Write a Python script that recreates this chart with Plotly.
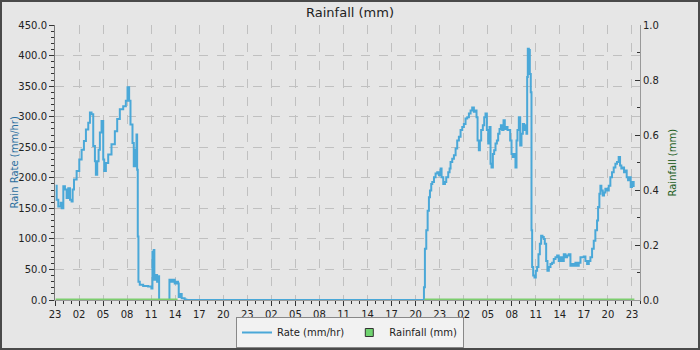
import pandas as pd
import plotly.graph_objects as go

start = pd.Timestamp("2024-01-01 23:00")

# Rain rate (mm/hr): hours after start, values
rate_hours = [
    0.08, 0.21, 0.41, 0.71, 0.83, 1.04, 1.24, 1.45, 1.66, 1.87, 2.07, 2.2, 2.37, 2.7, 3.03,
    3.32, 3.61, 3.86, 4.15, 4.36, 4.56, 4.77, 4.98, 5.1, 5.27, 5.44, 5.6, 5.81, 6.02, 6.14,
    6.35, 6.64, 7.05, 7.47, 7.76, 8.09, 8.51, 8.84, 9.05, 9.25, 9.42, 9.67, 9.83, 10.0, 10.17,
    10.25, 10.33, 10.41, 10.58, 11.0, 11.62, 12.03, 12.16, 12.32, 12.4, 12.57, 12.74, 12.95,
    12.99, 14.23, 14.28, 14.52, 14.73, 14.94, 15.15, 15.35, 15.44, 15.64, 15.81, 16.18, 16.39,
    45.96, 46.04, 46.16, 46.33, 46.50, 46.66, 46.79, 46.95, 47.08, 47.29, 47.49, 47.70, 47.91,
    48.12, 48.24, 48.45, 48.66, 48.82, 49.07, 49.24, 49.36, 49.57, 49.78, 49.99, 50.19, 50.40,
    50.61, 50.82, 51.02, 51.23, 51.44, 51.65, 51.86, 52.06, 52.27, 52.48, 52.60, 52.73, 52.89,
    53.02, 53.18, 53.39, 53.56, 53.72, 53.89, 54.06, 54.22, 54.35, 54.47, 54.64, 54.80, 54.97,
    55.14, 55.30, 55.47, 55.64, 55.80, 55.97, 56.13, 56.30, 56.47, 56.63, 56.80, 56.97, 57.13,
    57.30, 57.46, 57.59, 57.71, 57.88, 58.05, 58.21, 58.38, 58.54, 58.71, 58.83, 58.92, 59.00,
    59.13, 59.25, 59.37, 59.46, 59.54, 59.67, 59.83, 60.00, 60.16, 60.33, 60.50, 60.66, 60.83,
    60.99, 61.12, 61.29, 61.45, 61.62, 61.83, 62.03, 62.24, 62.45, 62.66, 62.86, 63.07, 63.28,
    63.49, 63.70, 63.90, 64.11, 64.32, 64.53, 64.73, 64.94, 65.15, 65.36, 65.57, 65.77, 65.98,
    66.19, 66.40, 66.61, 66.81, 67.02, 67.23, 67.43, 67.64, 67.77, 67.93, 68.06, 68.18, 68.35,
    68.51, 68.68, 68.89, 69.10, 69.30, 69.51, 69.72, 69.93, 70.13, 70.34, 70.51, 70.67, 70.84,
    71.01, 71.17, 71.34, 71.51, 71.67, 71.84, 72.00, 72.21,
]
rate_values = [
    187, 164, 153, 159, 150, 186, 181, 167, 183, 164, 161, 181, 197, 211, 230,
    246, 260, 279, 290, 307, 304, 252, 227, 205, 227, 246, 274, 293, 230, 211,
    224, 238, 255, 276, 296, 312, 317, 326, 348, 326, 287, 257, 219, 246, 271,
    213, 104, 30, 25, 23, 22, 19, 79, 82, 33, 41, 30, 39,
    0, 0, 33, 30, 33, 27, 30, 27, 5, 10, 3, 1, 0,
    0, 21, 84, 114, 146, 168, 179, 190, 193, 201, 207, 209, 204,
    215, 201, 190, 193, 201, 209, 215, 226, 231, 237, 248, 261, 267,
    278, 283, 288, 297, 299, 305, 310, 315, 308, 310, 299, 261, 245,
    261, 278, 286, 299, 305, 278, 256, 283, 223, 217, 239, 245, 256,
    261, 272, 280, 286, 278, 294, 280, 283, 278, 278, 261, 239, 234,
    239, 217, 261, 278, 299, 253, 272, 288, 278, 286, 272, 365, 411,
    409, 370, 340, 114, 54, 40, 37, 48, 54, 75, 92, 105, 103,
    100, 92, 64, 48, 54, 59, 61, 67, 70, 73, 64, 70, 64,
    75, 70, 73, 75, 56, 59, 56, 61, 56, 61, 70, 70, 71,
    64, 59, 64, 70, 84, 97, 114, 130, 152, 174, 187, 179, 171,
    176, 182, 179, 187, 201, 209, 217, 223, 226, 234, 220, 215, 217,
    209, 212, 201, 196, 201, 185, 193, 185,
]

# Rainfall (mm): hours after start, values (None = gap)
rain_hours = [0.08, 15.3, 15.31, 46.1, 72.3]
rain_values = [0.0, 0.0, None, 0.0, 0.0]

y_ticks = [0, 50, 100, 150, 200, 250, 300, 350, 400, 450]

rate_x = [start + pd.Timedelta(hours=h) for h in rate_hours]
rain_x = [start + pd.Timedelta(hours=h) for h in rain_hours]
x_end = start + pd.Timedelta(hours=73)

BLUE = "#4aa8d8"
GREEN = "#7ccd6e"
FONT = "DejaVu Sans"

fig = go.Figure()
fig.add_trace(go.Scatter(x=rate_x, y=rate_values, mode="lines", name="Rate (mm/hr)",
                         line=dict(color=BLUE, width=2, shape="hv"), yaxis="y"))
fig.add_trace(go.Scatter(x=rain_x, y=rain_values, mode="lines", name="Rainfall (mm)",
                         line=dict(color=GREEN, width=3), yaxis="y2", showlegend=False,
                         connectgaps=False, legendgroup="rain"))
# legend entry for rainfall (square symbol)
fig.add_trace(go.Scatter(x=[None], y=[None], mode="markers", name="Rainfall (mm)",
                         yaxis="y2", legendgroup="rain",
                         marker=dict(symbol="square", size=8, color="#6fd36f",
                                     line=dict(color="#333333", width=1))))

ml, mr, mt, mb = 55, 60, 25, 50
pw, ph = 700 - ml - mr, 350 - mt - mb

fig.update_layout(
    width=700, height=350,
    margin=dict(l=ml, r=mr, t=mt, b=mb, autoexpand=False),
    paper_bgcolor="#e6e6e6", plot_bgcolor="#e6e6e6",
    font=dict(family=FONT, size=10, color="#222222"),
    title=dict(text="Rainfall (mm)", x=0.5, xref="container", xanchor="center",
               y=1 - 12 / 350, yref="container", yanchor="middle",
               font=dict(size=13, color="#222222")),
    showlegend=True,
    legend=dict(orientation="h", x=0.5, xref="container", xanchor="center",
                y=2 / 350, yref="container", yanchor="bottom",
                bgcolor="#f2f2f2", bordercolor="#888888", borderwidth=1,
                font=dict(size=10), traceorder="normal"),
    xaxis=dict(type="date", range=[start, x_end], tick0=start, dtick=3 * 3600000,
               tickformat="%H", ticks="outside", ticklen=5, tickcolor="#333333",
               showline=True, linecolor="#999999", linewidth=1,
               showgrid=True, gridcolor="#c0c0c0", griddash="dash", gridwidth=1,
               zeroline=False,
               minor=dict(dtick=3600000, tick0=start, ticks="outside", ticklen=3,
                          tickcolor="#333333", showgrid=False),
               tickfont=dict(size=10)),
    yaxis=dict(range=[0, 450], tickvals=y_ticks, tickformat=".1f",
               ticks="outside", ticklen=5, tickcolor="#333333",
               showline=True, linecolor="#777777", linewidth=1,
               showgrid=True, gridcolor="#c0c0c0", griddash="dash", gridwidth=1,
               zeroline=False,
               minor=dict(dtick=10, ticks="outside", ticklen=3, tickcolor="#333333",
                          showgrid=False),
               tickfont=dict(size=10)),
    yaxis2=dict(range=[0, 1.0], overlaying="y", side="right", dtick=0.2, tick0=0,
                tickformat=".1f", ticks="inside", ticklen=5, tickcolor="#333333",
                showline=True, linecolor="#999999", linewidth=1,
                showgrid=False, zeroline=False,
                minor=dict(dtick=0.1, ticks="inside", ticklen=3, tickcolor="#333333"),
                tickfont=dict(size=10)),
    annotations=[
        dict(text="Rain Rate (mm/hr)", xref="paper", yref="paper",
             x=(14 - ml) / pw, y=0.5, textangle=-90, showarrow=False,
             xanchor="center", yanchor="middle",
             font=dict(size=10, color="#2a6e9e")),
        dict(text="Rainfall (mm)", xref="paper", yref="paper",
             x=(672 - ml) / pw, y=0.5, textangle=-90, showarrow=False,
             xanchor="center", yanchor="middle",
             font=dict(size=10, color="#1f5f1f")),
    ],
    shapes=[
        dict(type="rect", xref="paper", yref="paper",
             x0=-ml / pw, x1=1 + mr / pw, y0=-mb / ph, y1=1 + mt / ph,
             line=dict(color="#4a4a4a", width=4), fillcolor="rgba(0,0,0,0)", layer="above"),
    ],
)

fig.write_html("out.html")
